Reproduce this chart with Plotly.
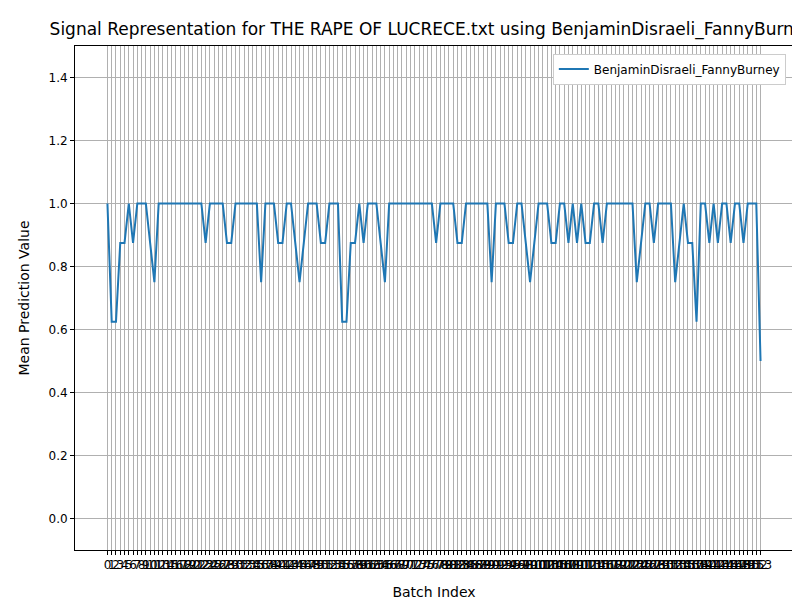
import plotly.graph_objects as go

# mean prediction value per batch
values = [
    1, .625, .625, .875, .875, 1, .875, 1, 1, 1, .875, .75,
    1, 1, 1, 1, 1, 1, 1, 1, 1, 1, 1, .875, 1, 1, 1, 1, .875, .875,
    1, 1, 1, 1, 1, 1, .75, 1, 1, 1, .875, .875, 1, 1, .875, .75,
    .875, 1, 1, 1, .875, .875, 1, 1, 1, .625, .625, .875, .875, 1,
    .875, 1, 1, 1, .875, .75, 1, 1, 1, 1, 1, 1, 1, 1, 1, 1,
    1, .875, 1, 1, 1, 1, .875, .875, 1, 1, 1, 1, 1, 1, .75, 1,
    1, 1, .875, .875, 1, 1, .875, .75, .875, 1, 1, 1, .875, .875,
    1, 1, .875, 1, .875, 1, .875, .875, 1, 1, .875, 1, 1, 1,
    1, 1, 1, 1, .75, .875, 1, 1, .875, 1, 1, 1, 1, .75, .875,
    1, .875, .875, .625, 1, 1, .875, 1, .875, 1, 1, .875, 1, 1, .875,
    1, 1, 1, .5,
]
batch_index = list(range(len(values)))
series_name = "BenjaminDisraeli_FannyBurney"

fig = go.Figure()
fig.add_trace(go.Scatter(
    x=batch_index, y=values, mode="lines", name=series_name,
    line=dict(color="#1f77b4", width=2),
))

axis_common = dict(
    showline=True, linecolor="black", mirror=True,
    showgrid=True, gridcolor="#b0b0b0", gridwidth=1,
    ticks="outside", ticklen=4, tickcolor="black", zeroline=False,
)
fig.update_xaxes(
    title_text="Batch Index", range=[-7.6, 160.6],
    tickmode="array", tickvals=batch_index, ticktext=[str(i) for i in batch_index],
    tickangle=0, **axis_common,
)
fig.update_yaxes(
    title_text="Mean Prediction Value", range=[-0.1, 1.5],
    tickmode="array", tickvals=[0, .2, .4, .6, .8, 1.0, 1.2, 1.4],
    tickformat=".1f", **axis_common,
)

fig.update_layout(
    width=800, height=600,
    title=dict(text="Signal Representation for THE RAPE OF LUCRECE.txt using BenjaminDisraeli_FannyBurney",
               x=0.53, xanchor="center", y=0.975, font=dict(size=17)),
    font=dict(family="DejaVu Sans", size=12, color="black"),
    paper_bgcolor="white", plot_bgcolor="white",
    margin=dict(l=67, r=15, t=38, b=58),
    showlegend=True,
    legend=dict(x=0.99, y=0.985, xanchor="right", yanchor="top",
                bordercolor="#cccccc", borderwidth=1, font=dict(size=12)),
)

fig.write_html("out.html")
